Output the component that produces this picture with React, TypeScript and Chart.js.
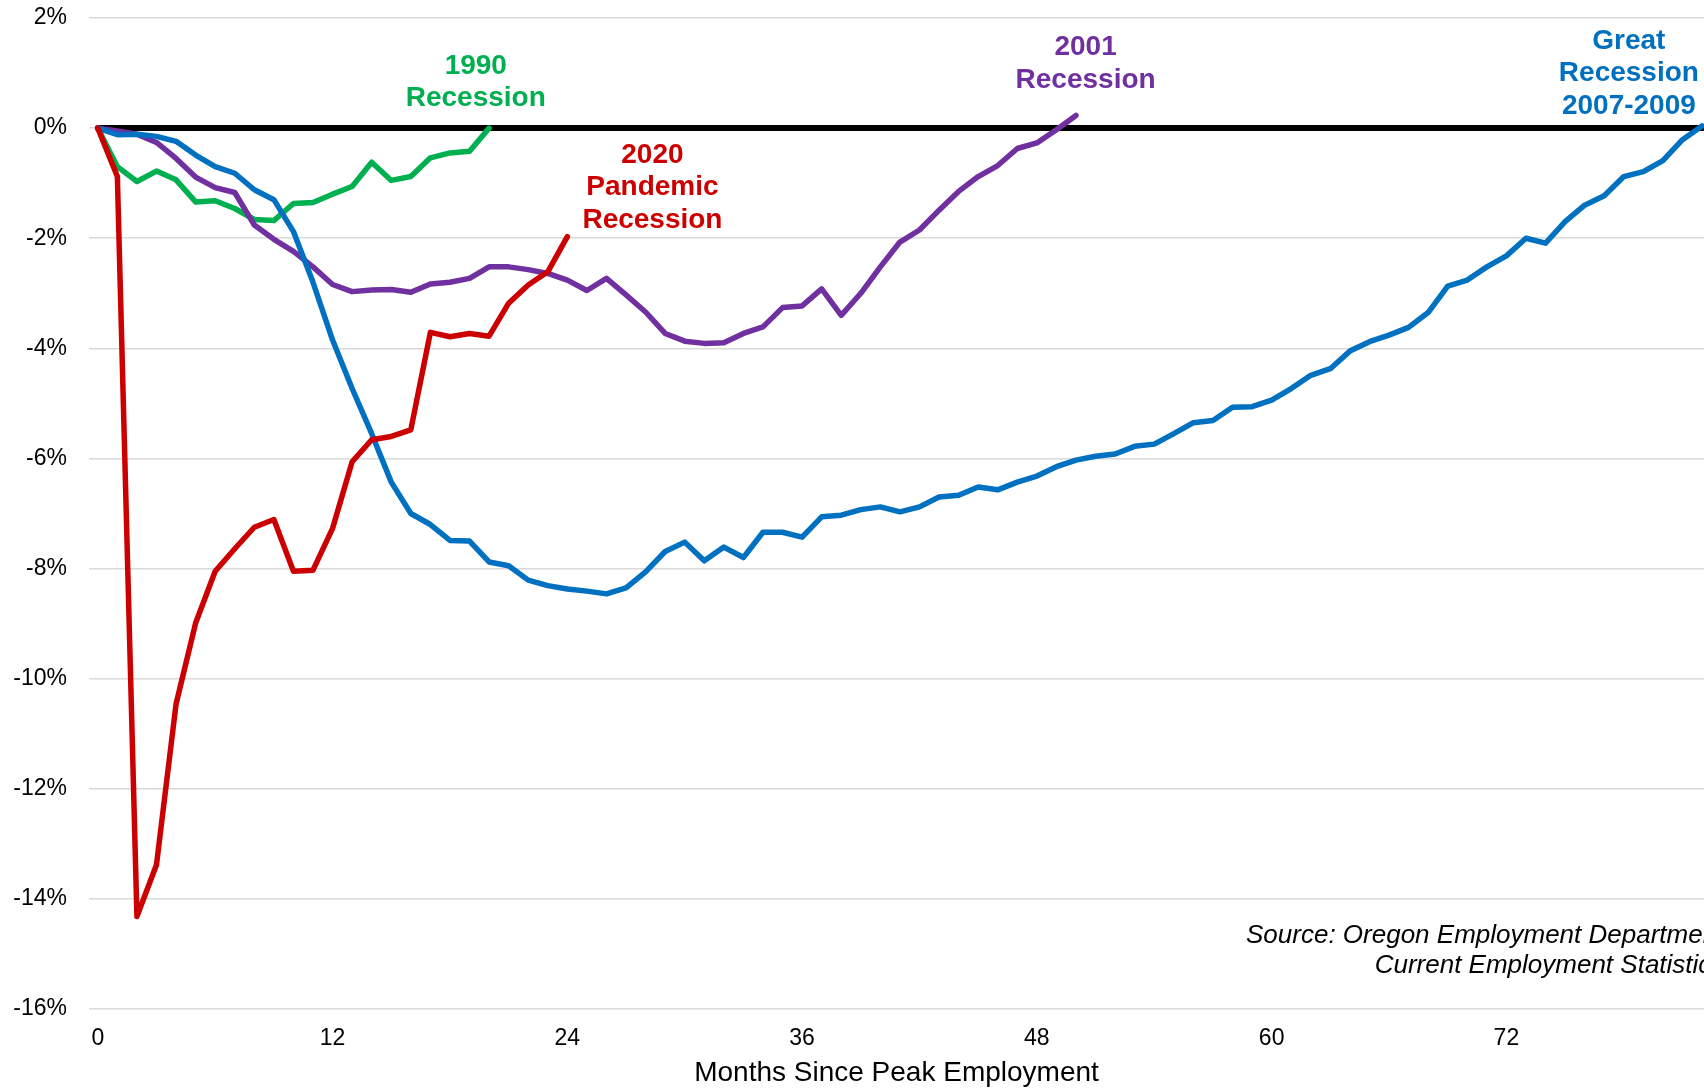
import React, { useEffect, useRef } from 'react';
import { Chart, registerables } from 'chart.js';

Chart.register(...registerables);

// Percent change in employment since the pre-recession peak, by month
const recession1990 = [0, -0.70, -0.97, -0.78, -0.94, -1.34, -1.32, -1.46, -1.66, -1.68, -1.37, -1.35, -1.20, -1.06, -0.62, -0.95, -0.88, -0.54, -0.45, -0.42, 0.0];

const recession2001 = [0, -0.05, -0.11, -0.26, -0.55, -0.89, -1.08, -1.17, -1.76, -2.02, -2.24, -2.52, -2.84, -2.97, -2.94, -2.93, -2.98, -2.83, -2.80, -2.73, -2.52, -2.52, -2.57, -2.64, -2.76, -2.95, -2.73, -3.03, -3.34, -3.73, -3.87, -3.91, -3.90, -3.73, -3.61, -3.26, -3.23, -2.92, -3.40, -3.00, -2.52, -2.07, -1.85, -1.49, -1.15, -0.88, -0.68, -0.37, -0.27, -0.03, 0.23];

const greatRecession = [0, -0.12, -0.11, -0.15, -0.24, -0.49, -0.70, -0.82, -1.12, -1.30, -1.88, -2.80, -3.85, -4.73, -5.55, -6.43, -7.00, -7.20, -7.49, -7.50, -7.88, -7.95, -8.21, -8.31, -8.37, -8.41, -8.46, -8.35, -8.06, -7.69, -7.52, -7.86, -7.61, -7.80, -7.34, -7.34, -7.43, -7.06, -7.03, -6.93, -6.88, -6.97, -6.88, -6.70, -6.67, -6.52, -6.57, -6.43, -6.32, -6.15, -6.03, -5.96, -5.92, -5.78, -5.74, -5.55, -5.35, -5.31, -5.07, -5.06, -4.94, -4.73, -4.49, -4.37, -4.05, -3.88, -3.76, -3.62, -3.35, -2.87, -2.76, -2.52, -2.32, -2.00, -2.09, -1.70, -1.40, -1.23, -0.88, -0.79, -0.59, -0.21, 0.04];

const pandemic2020 = [0, -0.88, -14.32, -13.38, -10.46, -8.99, -8.05, -7.64, -7.25, -7.11, -8.05, -8.03, -7.27, -6.06, -5.66, -5.60, -5.48, -3.71, -3.79, -3.73, -3.78, -3.18, -2.85, -2.61, -1.97];

const peakLineMonths = [0, 82];
const peakLineValues = [0, 0];

const xTicks = [0, 12, 24, 36, 48, 60, 72];
const yTicks = [-16, -14, -12, -10, -8, -6, -4, -2, 0, 2];

// Series labels: text lines, colour, anchor (month, percent) of the first line
const labelTexts = [
  ['1990', 'Recession'],
  ['2020', 'Pandemic', 'Recession'],
  ['2001', 'Recession'],
  ['Great', 'Recession', '2007-2009'],
];
const labelColors = ['#00B050', '#CC0000', '#7030A0', '#0070C0'];
const labelMonths = [19.32, 28.35, 50.49, 78.26];
const labelValues = [1.13, -0.49, 1.46, 1.58];

const sourceLines = ['Source: Oregon Employment Department', 'Current Employment Statistics'];
const sourceMonth = 83.14;
const sourceValues = [-14.67, -15.21];

const toPoints = (arr: number[]) => arr.map((v, i) => ({ x: i, y: v }));

const labelPlugin = {
  id: 'seriesLabels',
  afterDatasetsDraw(chart: any) {
    const { ctx, scales } = chart;
    const xs = scales.x;
    const ys = scales.y;
    ctx.save();
    ctx.textAlign = 'center';
    ctx.textBaseline = 'middle';
    ctx.font = "bold 28px 'Liberation Sans', Arial, sans-serif";
    labelTexts.forEach((lines, i) => {
      const px = xs.getPixelForValue(labelMonths[i]);
      const py = ys.getPixelForValue(labelValues[i]);
      ctx.fillStyle = labelColors[i];
      lines.forEach((t, j) => ctx.fillText(t, px, py + j * 32.5));
    });
    ctx.textAlign = 'right';
    ctx.font = "italic 26px 'Liberation Sans', Arial, sans-serif";
    ctx.fillStyle = '#000';
    const sx = xs.getPixelForValue(sourceMonth);
    sourceLines.forEach((t, j) => ctx.fillText(t, sx, ys.getPixelForValue(sourceValues[j])));
    ctx.restore();
  },
};

export default function App() {
  const ref = useRef<HTMLCanvasElement | null>(null);
  useEffect(() => {
    document.body.style.margin = '0';
    if (!ref.current) return;
    Chart.defaults.font.family = "'Liberation Sans', Arial, sans-serif";
    const lineStyle = {
      borderWidth: 5.5,
      pointRadius: 0,
      tension: 0,
      borderCapStyle: 'round' as const,
      borderJoinStyle: 'round' as const,
      fill: false,
    };
    const chart = new Chart(ref.current, {
      type: 'line',
      data: {
        datasets: [
          { label: '2020 Pandemic Recession', data: toPoints(pandemic2020), borderColor: '#CC0000', order: 1, ...lineStyle },
          { label: 'Great Recession 2007-2009', data: toPoints(greatRecession), borderColor: '#0070C0', order: 2, ...lineStyle },
          { label: '2001 Recession', data: toPoints(recession2001), borderColor: '#7030A0', order: 3, ...lineStyle },
          { label: '1990 Recession', data: toPoints(recession1990), borderColor: '#00B050', order: 4, ...lineStyle },
          {
            label: 'Peak',
            data: peakLineMonths.map((m, i) => ({ x: m, y: peakLineValues[i] })),
            borderColor: '#000',
            order: 10,
            borderWidth: 6,
            borderCapStyle: 'round',
            pointRadius: 0,
            fill: false,
          },
        ],
      },
      options: {
        responsive: false,
        animation: false,
        layout: { padding: { top: 18, right: 0, left: 0, bottom: 0 } },
        plugins: { legend: { display: false }, tooltip: { enabled: false } },
        scales: {
          x: {
            type: 'linear',
            min: -0.45,
            max: 82.1,
            grid: { display: false, drawTicks: false },
            border: { display: false },
            afterBuildTicks: (s: any) => {
              s.ticks = xTicks.map((v) => ({ value: v }));
            },
            afterFit: (s: any) => {
              s.height = 81;
              s.paddingLeft = 0;
              s.paddingRight = 0;
            },
            ticks: { font: { size: 23 }, color: '#000', padding: 16, maxRotation: 0, autoSkip: false },
            title: {
              display: true,
              text: 'Months Since Peak Employment',
              font: { size: 28 },
              color: '#000',
              padding: { top: 0, bottom: 0 },
            },
          },
          y: {
            type: 'linear',
            min: -16,
            max: 2,
            afterBuildTicks: (s: any) => {
              s.ticks = yTicks.map((v) => ({ value: v }));
            },
            afterFit: (s: any) => {
              s.width = 89;
              s.paddingTop = 0;
              s.paddingBottom = 0;
            },
            grid: { color: '#D9D9D9', lineWidth: 1.5, drawTicks: false },
            border: { display: false },
            ticks: { font: { size: 23 }, color: '#000', padding: 22, callback: (v: any) => v + '%' },
          },
        },
      },
      plugins: [labelPlugin],
    });
    return () => chart.destroy();
  }, []);
  return (
    <div style={{ width: 1704, height: 1090, background: '#fff' }}>
      <canvas ref={ref} width={1704} height={1090} style={{ display: 'block', width: 1704, height: 1090 }} />
    </div>
  );
}
